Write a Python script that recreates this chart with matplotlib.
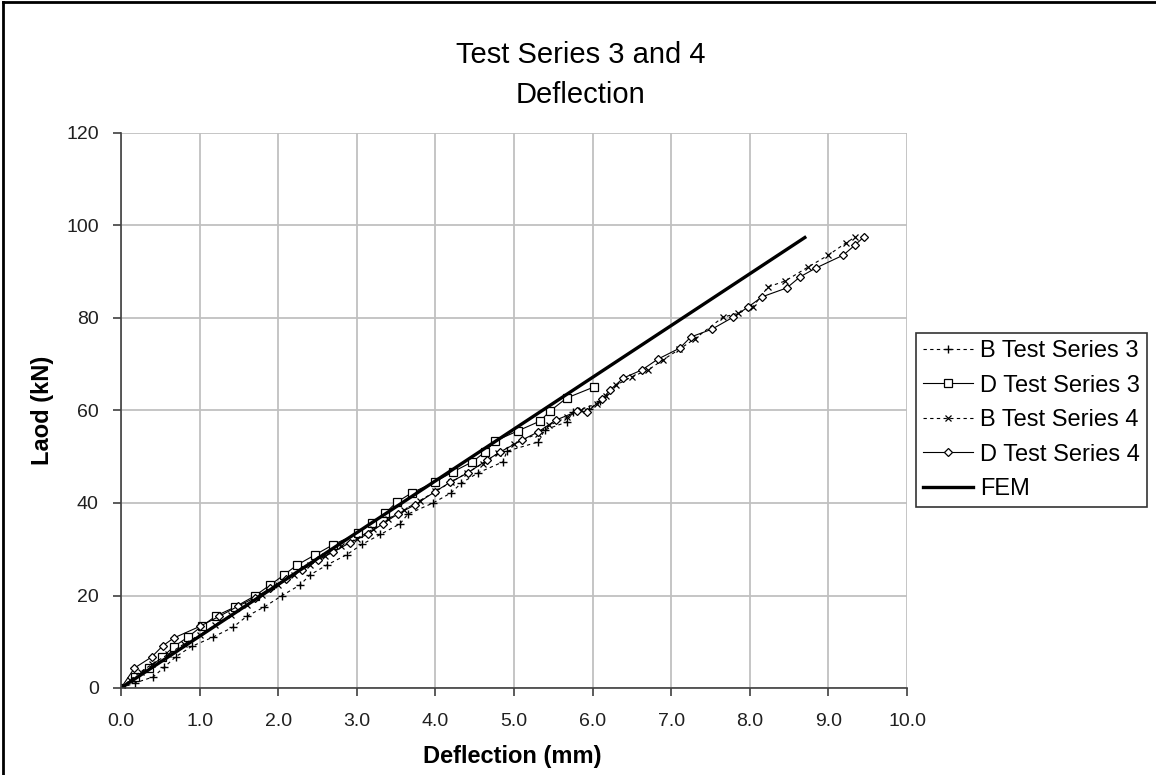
import matplotlib
matplotlib.use('Agg')
import matplotlib.pyplot as plt
from matplotlib.lines import Line2D

# B Test Series 3
b3_x = [0, 0.18, 0.41, 0.55, 0.7, 0.9, 1.17, 1.43, 1.6, 1.82, 2.05, 2.28, 2.40, 2.62, 2.87,
        3.07, 3.3, 3.55, 3.65, 3.97, 4.20, 4.33, 4.54, 4.86, 4.91, 5.31, 5.39, 5.67, 5.75,
        5.95, 6.1]
b3_y = [0, 1.1, 2.4, 4.5, 6.8, 9.0, 11.0, 13.2, 15.5, 17.5, 20.0, 22.3, 24.4, 26.6, 28.8,
        31.1, 33.2, 35.5, 37.6, 40.0, 42.2, 44.3, 46.5, 48.9, 51.2, 53.2, 55.8, 57.5, 59.7,
        60.3, 62.0]

# D Test Series 3
d3_x = [0, 0.18, 0.35, 0.52, 0.67, 0.85, 1.03, 1.21, 1.45, 1.70, 1.90, 2.07, 2.24, 2.47, 2.70,
        3.02, 3.19, 3.36, 3.51, 3.70, 3.99, 4.22, 4.47, 4.63, 4.76, 5.05, 5.33, 5.46, 5.67, 6.02]
d3_y = [0, 2.3, 4.3, 6.6, 8.9, 11.0, 13.4, 15.6, 17.5, 19.9, 22.3, 24.4, 26.6, 28.8, 31.0,
        33.5, 35.7, 37.8, 40.2, 42.2, 44.5, 46.7, 48.9, 51.0, 53.4, 55.6, 57.7, 59.9, 62.7, 65.1]

# B Test Series 4
b4_x = [0, 0.12, 0.25, 0.4, 0.6, 0.8, 1.0, 1.2, 1.4, 1.6, 1.8, 2.0, 2.2, 2.4, 2.6, 2.8, 3.0,
        3.2, 3.4, 3.6, 3.8, 4.0, 4.2, 4.4, 4.6, 4.8, 5.0, 5.3, 5.45, 5.67, 5.85, 6.05, 6.17,
        6.3, 6.5, 6.71, 6.9, 7.1, 7.3, 7.66, 7.85, 8.04, 8.23, 8.45, 8.74, 9.0, 9.22, 9.34]
b4_y = [0, 1.8, 3.5, 5.2, 7.3, 9.5, 11.5, 13.6, 15.8, 18.0, 20.2, 22.3, 24.4, 26.5, 28.6, 30.6,
        32.3, 34.3, 36.5, 38.5, 40.5, 42.5, 44.5, 46.5, 48.5, 50.8, 52.8, 55.0, 56.8, 58.5,
        60.2, 61.5, 63.2, 65.5, 67.3, 68.8, 71.0, 73.2, 75.5, 80.2, 81.0, 82.4, 86.7, 88.0,
        91.0, 93.6, 96.2, 97.5]

# D Test Series 4
d4_x = [0, 0.17, 0.39, 0.53, 0.67, 1.0, 1.25, 1.49, 1.7, 1.9, 2.1, 2.3, 2.5, 2.7, 2.91, 3.14,
        3.33, 3.52, 3.74, 3.99, 4.19, 4.41, 4.66, 4.82, 5.10, 5.31, 5.53, 5.80, 5.93, 6.12,
        6.22, 6.39, 6.63, 6.83, 7.11, 7.25, 7.52, 7.79, 7.98, 8.16, 8.47, 8.64, 8.84, 9.19,
        9.34, 9.45]
d4_y = [0, 4.3, 6.7, 9.1, 10.8, 13.3, 15.5, 17.7, 19.5, 21.6, 23.6, 25.6, 27.6, 29.4, 31.4,
        33.3, 35.5, 37.6, 39.6, 42.4, 44.5, 46.5, 49.3, 51.0, 53.6, 55.4, 57.9, 59.8, 59.7,
        62.4, 64.4, 67.0, 68.8, 71.1, 73.5, 75.9, 77.6, 80.2, 82.4, 84.6, 86.5, 88.9, 90.8,
        93.6, 95.8, 97.5]

# FEM
fem_x = [0, 8.7]
fem_y = [0, 97.4]

W, H = 1156, 775
plt.rcParams['font.family'] = ['Liberation Sans', 'DejaVu Sans']
fig = plt.figure(figsize=(W / 100, H / 100), dpi=100)
ax = fig.add_axes([121 / W, 1 - 688 / H, (907 - 121) / W, (688 - 133) / H])

dash = (0, (3, 3))
ax.plot(b3_x, b3_y, color='black', lw=0.8, linestyle=dash, marker='+', ms=6, mew=1.0,
        label='B Test Series 3')
ax.plot(d3_x, d3_y, color='black', lw=0.8, marker='s', ms=5.5, mfc='white', mew=0.9,
        label='D Test Series 3')
ax.plot(b4_x, b4_y, color='black', lw=0.8, linestyle=dash, marker='x', ms=5, mew=0.9,
        label='B Test Series 4')
ax.plot(d4_x, d4_y, color='black', lw=0.8, marker='D', ms=4.5, mfc='white', mew=0.9,
        label='D Test Series 4')
ax.plot(fem_x, fem_y, color='black', lw=2.4, label='FEM')

ax.set_xlim(0, 10)
ax.set_ylim(0, 120)
ax.set_xticks([i * 1.0 for i in range(11)])
ax.set_xticklabels([f'{i:.1f}' for i in range(11)])
ax.set_yticks(range(0, 121, 20))
ax.grid(True, color='#c0c0c0', lw=1.3)
ax.set_axisbelow(True)
for s in ['top', 'right']:
    ax.spines[s].set_visible(False)
for s in ['left', 'bottom']:
    ax.spines[s].set_color('#404040')
    ax.spines[s].set_linewidth(1.2)
ax.tick_params(axis='both', direction='out', length=6, width=1.2, color='#404040',
               labelsize=14, labelcolor='#202020')
ax.tick_params(axis='x', pad=12)
ax.tick_params(axis='y', pad=10)

fig.text(581 / W, 1 - 63 / H, 'Test Series 3 and 4', ha='center', va='baseline', fontsize=21)
fig.text(581 / W, 1 - 103 / H, 'Deflection', ha='center', va='baseline', fontsize=21)
fig.text(512 / W, 1 - 763 / H, 'Deflection (mm)', ha='center', va='baseline',
         fontsize=17, fontweight='bold')
fig.text(42 / W, 1 - 410 / H, 'Laod (kN)', ha='center', va='center', rotation=90,
         fontsize=17, fontweight='bold')

leg = fig.legend(loc='upper left', bbox_to_anchor=(916 / W, 1 - 333 / H), fontsize=17,
                 frameon=True, fancybox=False, edgecolor='black', handlelength=2.1,
                 handletextpad=0.3, labelspacing=0.53, borderpad=0.3, borderaxespad=0)
leg.get_frame().set_linewidth(1.2)

# chart area border
fig.add_artist(Line2D([3 / W, 3 / W], [0, 1 - 2 / H], color='black', lw=2, transform=fig.transFigure))
fig.add_artist(Line2D([3 / W, 1], [1 - 2 / H, 1 - 2 / H], color='black', lw=2, transform=fig.transFigure))

plt.savefig('out.png', dpi=100)
